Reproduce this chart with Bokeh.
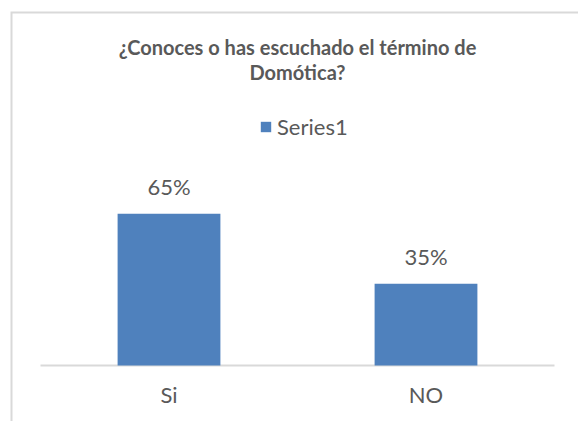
from bokeh.plotting import figure
from bokeh.models import ColumnDataSource, Range1d, Legend, LegendItem
from bokeh.core.properties import value
from bokeh.embed import file_html
from bokeh.resources import INLINE

# ---- data ----
categories = ["Si", "NO"]
values = [65, 35]
labels = ["65%", "35%"]
series_name = "Series1"
title_lines = ["¿Conoces o has escuchado el término de", "Domótica?"]

# ---- style / layout (pixels on the canvas) ----
TEXT = "#595959"
BAR = "#4f81bd"
GRID = "#d9d9d9"
FONT = "Lato"
W, H = 578, 421
CAT_PX = 257.0        # width of one category band
FIRST_CAT_PX = 168.5  # centre of first category
ZERO_PX = 365.0       # y of the value axis zero (from top)
PCT_PX = 2.334        # pixels per percentage point

x_start = -FIRST_CAT_PX / CAT_PX
x_end = x_start + W / CAT_PX
y_end = ZERO_PX / PCT_PX
y_start = -(H - ZERO_PX) / PCT_PX


def xd(px):
    return x_start + px / CAT_PX


def yd(py):
    return (ZERO_PX - py) / PCT_PX


idx = list(range(len(categories)))
src = ColumnDataSource(dict(x=idx, cat=categories, val=values, lab=labels))

p = figure(width=W, height=H, output_backend="svg", toolbar_location=None,
           x_range=Range1d(x_start, x_end), y_range=Range1d(y_start, y_end),
           x_axis_type=None, y_axis_type=None,
           min_border=0, min_border_left=0, min_border_right=0,
           min_border_top=0, min_border_bottom=0)
p.title.visible = False
p.xgrid.visible = False
p.ygrid.visible = False
p.outline_line_color = None

# chart border (left and top visible, the rest runs off the canvas)
p.line(x=[xd(11), xd(11), xd(W + 50)], y=[yd(H + 50), yd(12), yd(12)],
       line_color=GRID, line_width=2, line_join="miter")

# category axis line
p.line(x=[idx[0] - 0.5, idx[-1] + 0.5], y=[0, 0], line_color=GRID, line_width=2)

bars = p.vbar(x="x", top="val", width=0.4, source=src, fill_color=BAR, line_color=None)

# data labels
p.text(x="x", y="val", text="lab", source=src, text_align="center",
       text_baseline="alphabetic", y_offset=-27, text_font=value(FONT),
       text_font_size="22px", text_color=TEXT)

# category labels
p.text(x="x", y=0, text="cat", source=src, text_align="center",
       text_baseline="alphabetic", y_offset=29, text_font=value(FONT),
       text_font_size="22px", text_color=TEXT)

# title (two centred lines)
mid = (idx[0] + idx[-1]) / 2
p.text(x=[mid, mid], y=[yd(46), yd(71)], text=title_lines, text_align="center",
       text_baseline="alphabetic", text_font=value(FONT), text_font_size="20px",
       text_font_style="bold", text_color=TEXT)

legend = Legend(items=[LegendItem(label=series_name, renderers=[bars])],
                orientation="horizontal", location=(259, 281),
                border_line_color=None, background_fill_alpha=0,
                label_text_font=FONT, label_text_font_size="22px", label_text_color=TEXT,
                glyph_width=13, glyph_height=13, label_standoff=5, padding=0, margin=0)
p.add_layout(legend)

open("out.html", "w").write(file_html(p, INLINE))
